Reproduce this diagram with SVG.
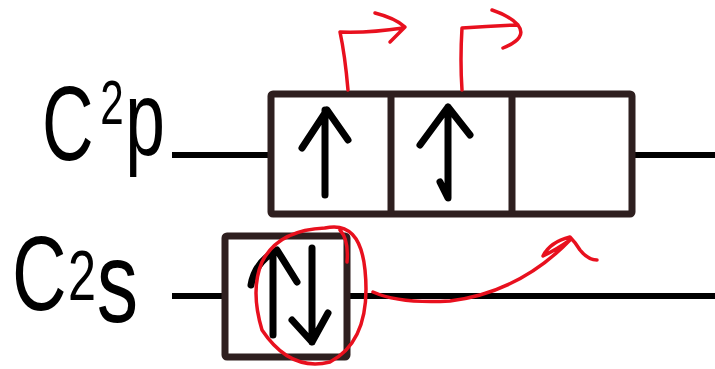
<svg xmlns="http://www.w3.org/2000/svg" width="715" height="369" viewBox="0 0 715 369">
<style>
.lbl{font-family:"Liberation Sans","DejaVu Sans",sans-serif;fill:#000}
.line{stroke:#000;stroke-width:6;fill:none}
.box{stroke:#2e1f1f;stroke-width:7;fill:none;stroke-linejoin:round}
.spin{stroke:#000;stroke-width:7;fill:none;stroke-linecap:round;stroke-linejoin:round}
.red{stroke:#e8101e;stroke-width:3.5;fill:none;stroke-linecap:round;stroke-linejoin:round}
</style>
<rect width="715" height="369" fill="#fff"/>
<g id="label-2p">
<text class="lbl" transform="translate(42,160) scale(0.68,1)"><tspan font-size="105">C</tspan><tspan font-size="62" dx="10" dy="-36">2</tspan><tspan font-size="105" dx="2" dy="31">p</tspan></text>
</g>
<g id="label-2s">
<text class="lbl" transform="translate(12,310) scale(0.72,1)"><tspan font-size="105">C</tspan><tspan font-size="70" dx="2" dy="-10">2</tspan><tspan font-size="115" dx="1" dy="22">s</tspan></text>
</g>
<g id="connectors">
<line class="line" x1="172" y1="155" x2="271" y2="155"/>
<line class="line" x1="632" y1="155" x2="715" y2="155"/>
<line class="line" x1="172" y1="296" x2="225" y2="296"/>
<line class="line" x1="347" y1="296" x2="715" y2="296"/>
</g>
<g id="orbital-2p">
<rect class="box" x="271" y="94" width="361" height="120" rx="2"/>
<line class="box" x1="391" y1="94" x2="391" y2="214"/>
<line class="box" x1="512" y1="94" x2="512" y2="214"/>
<path class="spin" d="M325 110 L325 195 M302 148 L327 110 L348 140"/>
<path class="spin" d="M448 107 L448 198 L440 182 M420 145 L448 107 L470 135"/>
</g>
<g id="orbital-2s">
<rect class="box" x="225" y="236" width="122" height="121" rx="2"/>
<path class="spin" d="M273 252 L273 335 M251 285 Q255 262 277 250 L297 282"/>
<path class="spin" d="M312 248 L312 342 M292 320 L312 342 L328 313"/>
</g>
<g id="excitation">
<path class="red" d="M348 90 Q345 55 340 32 Q370 33 403 28 M375 13 Q395 18 405 27 Q398 34 390 42"/>
<path class="red" d="M462 90 Q460 60 462 28 Q490 26 517 25 M492 10 Q510 16 518 25 Q528 38 503 48"/>
<path class="red" d="M325 228 Q360 220 365 270 Q372 340 330 362 Q290 372 262 330 Q250 290 262 262 Q278 230 325 228 M347 262 Q349 240 340 230"/>
<path class="red" d="M373 292 Q400 304 450 301 Q520 292 570 240 Q556 250 543 256 Q550 242 570 237 Q575 242 580 250 Q588 260 597 260"/>
</g>
</svg>
